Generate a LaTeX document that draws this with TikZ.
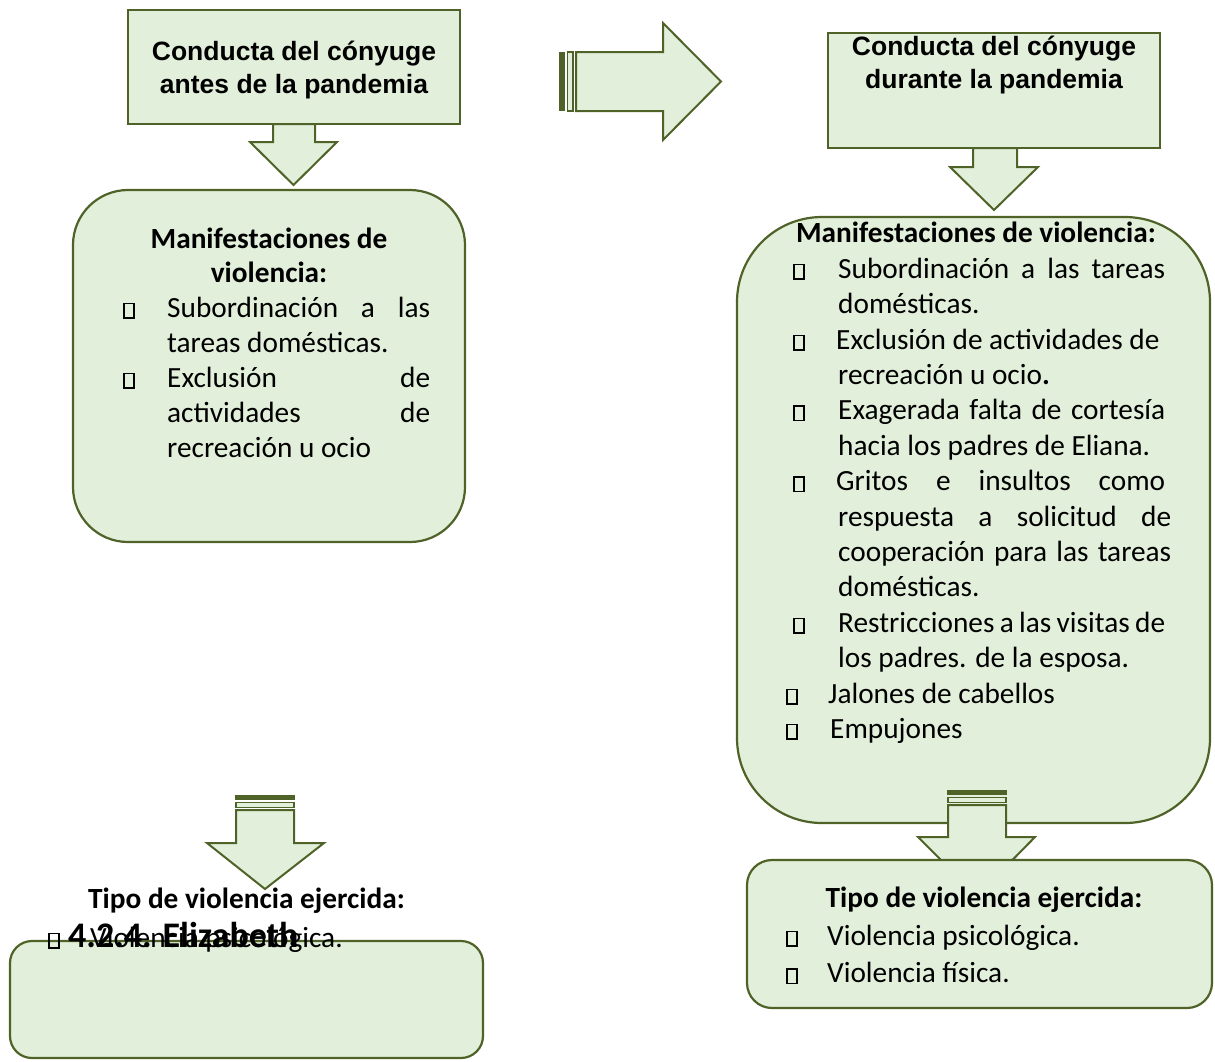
\documentclass[tikz,border=0pt]{standalone}
\usepackage{graphicx}
\usepackage{fontspec}
\setmainfont{Carlito}
\newfontfamily\arialf{Liberation Sans}
\definecolor{boxfill}{RGB}{226,239,218}
\definecolor{boxline}{RGB}{79,98,40}
\newcommand{\st}{\rule{0pt}{26pt}}
\newcommand{\bul}[1]{\makebox[#1][l]{{\setlength{\fboxsep}{0pt}\setlength{\fboxrule}{1.5pt}\fbox{\rule{0pt}{13pt}\hspace{8.5pt}}}}}
\tikzset{
  frame/.style={draw=boxline, fill=boxfill, line width=2.2pt, anchor=north west, inner sep=0pt, outer sep=0pt},
  blockarrow/.style={draw=boxline, fill=boxfill, line width=2pt, line join=miter},
  lightbar/.style={draw=boxline, fill=boxfill, line width=1.6pt},
  titletext/.style={inner sep=0pt, anchor=north, align=center, font=\arialf\bfseries\fontsize{26.5}{32.8}\selectfont},
  headtext/.style={inner sep=0pt, align=center, font=\bfseries\fontsize{29.3}{34}\selectfont},
  body/.style={inner sep=0pt, anchor=north west, align=left, font=\fontsize{29.3}{35.4}\selectfont}
}
\begin{document}
\begin{tikzpicture}[x=1pt,y=-1pt]
\useasboundingbox (0,0) rectangle (1215,1061);

% ---------- left column ----------
\node[frame, minimum width=332pt, minimum height=114pt] (b1) at (128,10) {};
\node[titletext] (t1) at (294,34) {\st Conducta del cónyuge\\antes de la pandemia};
\draw[blockarrow] (273,124) -- (273,142) -- (250,142) -- (293.5,185) -- (337,142) -- (315,142) -- (315,124) -- cycle;

\node[frame, rounded corners=55pt, minimum width=392pt, minimum height=352pt] (m1) at (73,190) {};
\node[headtext, anchor=north] (h1) at (269,222) {\st Manifestaciones de\\violencia:};
\node[body, font=\fontsize{29.3}{35}\selectfont] (l1) at (123,291) {%
\st\bul{44pt}\makebox[263pt][s]{Subordinación a las}\\
\hspace*{44pt}tareas domésticas.\\
\bul{44pt}\makebox[263pt][s]{Exclusión de}\\
\hspace*{44pt}\makebox[263pt][s]{actividades de}\\
\hspace*{44pt}recreación u ocio};

\fill[boxline] (235,795) rectangle (295,800);
\draw[lightbar] (236,802.5) rectangle (294,807.5);
\draw[blockarrow] (236,810) -- (236,843) -- (207,843) -- (265,889) -- (324,843) -- (294,843) -- (294,810) -- cycle;

\node[headtext, anchor=base] (h3) at (246.5,908) {Tipo de violencia ejercida:};
\node[frame, rounded corners=22pt, minimum width=473pt, minimum height=117pt] (e1) at (10,941) {};
\node[inner sep=0pt, anchor=base west] (bl) at (48,947) {\bul{12pt}};
\node[inner sep=0pt, anchor=base west, font=\fontsize{29.3}{35}\selectfont] (v1) at (90,947) {Violencia psicológica.};
\node[inner sep=0pt, anchor=base west, font=\bfseries\fontsize{36}{40}\selectfont] (el) at (68,947) {4.2.4. Elizabeth};

% ---------- middle arrow ----------
\fill[boxline] (559,52) rectangle (565,111);
\draw[lightbar] (567.5,52) rectangle (573,111);
\draw[blockarrow] (576,52) -- (663,52) -- (663,23) -- (721,81.5) -- (663,140) -- (663,111) -- (576,111) -- cycle;

% ---------- right column ----------
\node[frame, minimum width=332pt, minimum height=115pt] (b2) at (828,33) {};
\node[titletext] (t2) at (994,29) {\st Conducta del cónyuge\\durante la pandemia};
\draw[blockarrow] (973,148) -- (973,167) -- (950,167) -- (994,210) -- (1038,167) -- (1017,167) -- (1017,148) -- cycle;

\node[frame, rounded corners=85pt, minimum width=473pt, minimum height=606pt] (m2) at (737,217) {};
\node[headtext, anchor=base] (h2) at (976,242) {Manifestaciones de violencia:};
\node[body] (l2) at (793,252) {%
\st\bul{45pt}\makebox[327pt][s]{Subordinación a las tareas}\\
\hspace*{45pt}domésticas.\\
\bul{43pt}Exclusión de actividades de\\
\hspace*{45pt}recreación u ocio\textbf{.}\\
\bul{45pt}\makebox[327pt][s]{Exagerada falta de cortesía}\\
\hspace*{45pt}hacia los padres de Eliana.\\
\bul{43pt}\makebox[329pt][s]{Gritos e insultos como}\\
\hspace*{45pt}\makebox[333pt][s]{respuesta a solicitud de}\\
\hspace*{45pt}\makebox[333pt][s]{cooperación para las tareas}\\
\hspace*{45pt}domésticas.\\
\bul{45pt}\makebox[327pt][s]{Restricciones a las visitas de}\\
\hspace*{45pt}los padres. de la esposa.\\
\hspace*{-7pt}\bul{42pt}Jalones de cabellos\\
\hspace*{-7pt}\bul{44pt}Empujones};

\fill[boxline] (947,790) rectangle (1007,795);
\draw[lightbar] (948,797.5) rectangle (1006,802.5);
\draw[blockarrow] (948,805) -- (948,837) -- (918,837) -- (977,896) -- (1035,837) -- (1006,837) -- (1006,805) -- cycle;

\node[frame, rounded corners=25pt, minimum width=465pt, minimum height=148pt] (e2) at (747,860) {};
\node[headtext, anchor=base] (h4) at (984,907) {Tipo de violencia ejercida:};
\node[body, font=\fontsize{29.3}{37.7}\selectfont] (l4) at (786,919) {%
\st\bul{41pt}Violencia psicológica.\\
\bul{41pt}Violencia física.};
\end{tikzpicture}
\end{document}
